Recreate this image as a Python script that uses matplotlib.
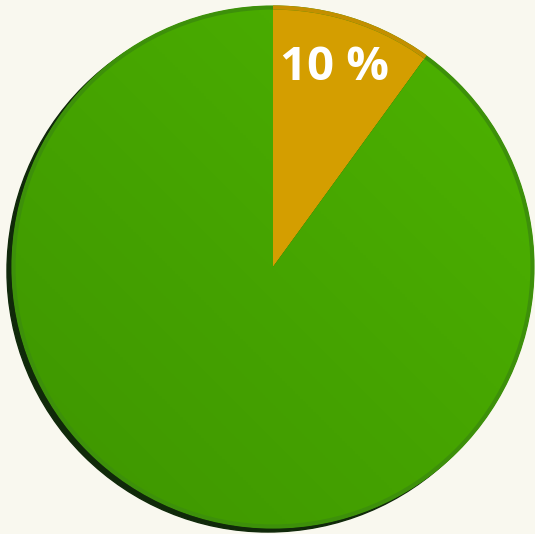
import numpy as np
import matplotlib
matplotlib.use("Agg")
import matplotlib.pyplot as plt
from matplotlib.colors import LinearSegmentedColormap
from matplotlib.patches import Circle, Arc

# pie data
labels = ["10 %", ""]
values = [10, 90]
colors = ["#d49e00", "#48a800"]

bg = "#f9f8ef"
W, H = 535, 534
cx, cy, r = 273, 267, 261

fig = plt.figure(figsize=(W / 100, H / 100), dpi=100, facecolor=bg)
ax = fig.add_axes([0, 0, 1, 1])
ax.set_facecolor(bg)

# dark shadow ring toward lower-left
shadow = Circle((cx - 5, cy - 4), r, color="#10290a", zorder=0)
ax.add_patch(shadow)

wedges, _ = ax.pie(values, colors=colors, startangle=90, counterclock=False,
                   center=(cx, cy), radius=r,
                   wedgeprops=dict(edgecolor="none", linewidth=0))
for w in wedges:
    w.set_zorder(1)

# soft diagonal gradient over the green slice
green = LinearSegmentedColormap.from_list("g", ["#3e9500", "#4db300"])
gx, gy = np.meshgrid(np.linspace(0, 1, 200), np.linspace(0, 1, 200))
im = ax.imshow((gx + gy) / 2, cmap=green, origin="lower",
               extent=(cx - r, cx + r, cy - r, cy + r), zorder=2)
im.set_clip_path(wedges[1])

# thin darker outline of the disc
ring = Circle((cx, cy), r - 1.5, fill=False, edgecolor="#3d900a", linewidth=3, zorder=3)
ax.add_patch(ring)
ax.add_patch(Arc((cx, cy), 2 * r - 3, 2 * r - 3, theta1=54, theta2=90,
                 edgecolor="#c38f00", linewidth=3, zorder=4))

ax.text(334, 467, labels[0], color="white", fontsize=34, fontweight="bold",
        family="Open Sans", ha="center", va="center", zorder=5)

ax.set_xlim(0, W)
ax.set_ylim(0, H)
ax.set_aspect("equal")
ax.axis("off")

fig.savefig("out.png", dpi=100, facecolor=bg)
